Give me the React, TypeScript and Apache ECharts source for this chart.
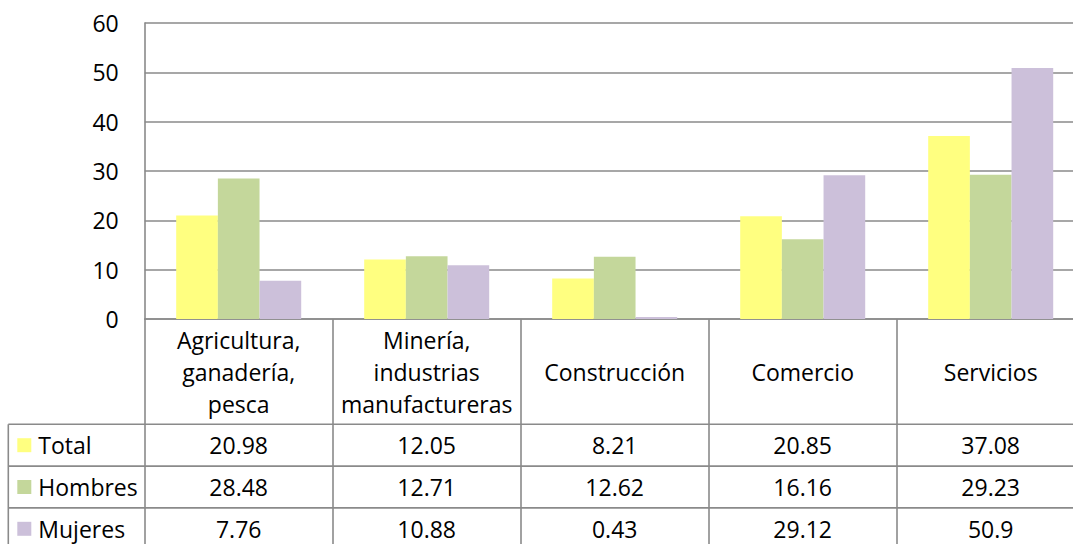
import React, { useEffect, useRef } from "react";
import * as echarts from "echarts";

const categories = [
  "Agricultura,\nganadería,\npesca",
  "Minería,\nindustrias\nmanufactureras",
  "Construcción",
  "Comercio",
  "Servicios",
];
const seriesNames = ["Total", "Hombres", "Mujeres"];
const totalValues = [20.98, 12.05, 8.21, 20.85, 37.08];
const hombresValues = [28.48, 12.71, 12.62, 16.16, 29.23];
const mujeresValues = [7.76, 10.88, 0.43, 29.12, 50.9];
const yTicks = { min: 0, max: 60, interval: 10 };

const colors = ["#FFFF80", "#C4D79B", "#CCC0DA"];
const FONT = "Open Sans";
const FS = 23;
const LINE = "#8a8a8a";
const LW = 1.6;

const GRID_LEFT = 144.7;
const GRID_TOP = 23;
const GRID_W = 940;
const GRID_H = 296;
const HEADER_H = 105.3;
const ROW_H = 41.8;
const TABLE_LEFT = 8.3;
const W = 1073;
const H = 544;

export default function App() {
  const ref = useRef<HTMLDivElement>(null);
  useEffect(() => {
    if (!ref.current) return;
    const chart = echarts.init(ref.current, undefined, { renderer: "svg" });
    const values = [totalValues, hombresValues, mujeresValues];
    const axisBottom = GRID_TOP + GRID_H;
    const rowTop = axisBottom + HEADER_H;

    const legends = seriesNames.map((name, i) => ({
      data: [name],
      orient: "vertical",
      left: 17.3,
      top: rowTop + ROW_H * i + ROW_H / 2 - 15,
      padding: 0,
      icon: "rect",
      itemWidth: 14,
      itemHeight: 14,
      selectedMode: false,
      textStyle: {
        fontFamily: FONT,
        fontSize: FS,
        color: "#000",
        lineHeight: 30,
        padding: [0, 0, 0, 2],
      },
    }));

    chart.setOption({
      animation: false,
      backgroundColor: "#fff",
      textStyle: { fontFamily: FONT },
      color: colors,
      legend: legends,
      grid: {
        left: GRID_LEFT,
        top: GRID_TOP,
        width: GRID_W,
        height: GRID_H,
        containLabel: false,
        outerBoundsMode: "none",
      },
      xAxis: {
        type: "category",
        data: categories,
        axisLine: { show: true, lineStyle: { color: LINE, width: LW } },
        axisTick: {
          show: true,
          length: H - axisBottom + 10,
          lineStyle: { color: LINE, width: LW },
        },
        axisLabel: {
          fontFamily: FONT,
          fontSize: FS,
          color: "#000",
          lineHeight: 32,
          margin: HEADER_H / 2,
          verticalAlign: "middle",
          align: "center",
          interval: 0,
        },
      },
      yAxis: {
        type: "value",
        min: yTicks.min,
        max: yTicks.max,
        interval: yTicks.interval,
        axisLine: { show: true, lineStyle: { color: LINE, width: LW } },
        axisTick: { show: false },
        splitLine: { show: true, lineStyle: { color: LINE, width: LW } },
        axisLabel: { fontFamily: FONT, fontSize: FS, color: "#000", margin: 26 },
      },
      series: seriesNames.map((name, i) => ({
        name,
        type: "bar",
        data: values[i],
        barGap: "0%",
        barCategoryGap: "33.5%",
        itemStyle: { color: colors[i] },
      })),
    });

    const graphics: any[] = [];
    for (let r = 0; r < seriesNames.length; r++) {
      const y = rowTop + ROW_H * r;
      graphics.push({
        type: "line",
        shape: { x1: TABLE_LEFT, y1: y, x2: W + 20, y2: y },
        style: { stroke: LINE, lineWidth: LW },
        silent: true,
      });
    }
    graphics.push({
      type: "line",
      shape: { x1: TABLE_LEFT, y1: rowTop, x2: TABLE_LEFT, y2: H + 10 },
      style: { stroke: LINE, lineWidth: LW },
      silent: true,
    });
    categories.forEach((c, ci) => {
      const x = chart.convertToPixel({ xAxisIndex: 0 }, ci) as number;
      values.forEach((arr, si) => {
        graphics.push({
          type: "text",
          x,
          y: rowTop + ROW_H * si + ROW_H / 2,
          silent: true,
          style: {
            text: String(arr[ci]),
            fontFamily: FONT,
            fontSize: FS,
            fill: "#000",
            align: "center",
            verticalAlign: "middle",
          },
        });
      });
    });
    chart.setOption({ graphic: graphics });

    return () => chart.dispose();
  }, []);
  return (
    <div
      ref={ref}
      style={{ position: "fixed", left: 0, top: 0, width: W, height: H, background: "#fff" }}
    />
  );
}
